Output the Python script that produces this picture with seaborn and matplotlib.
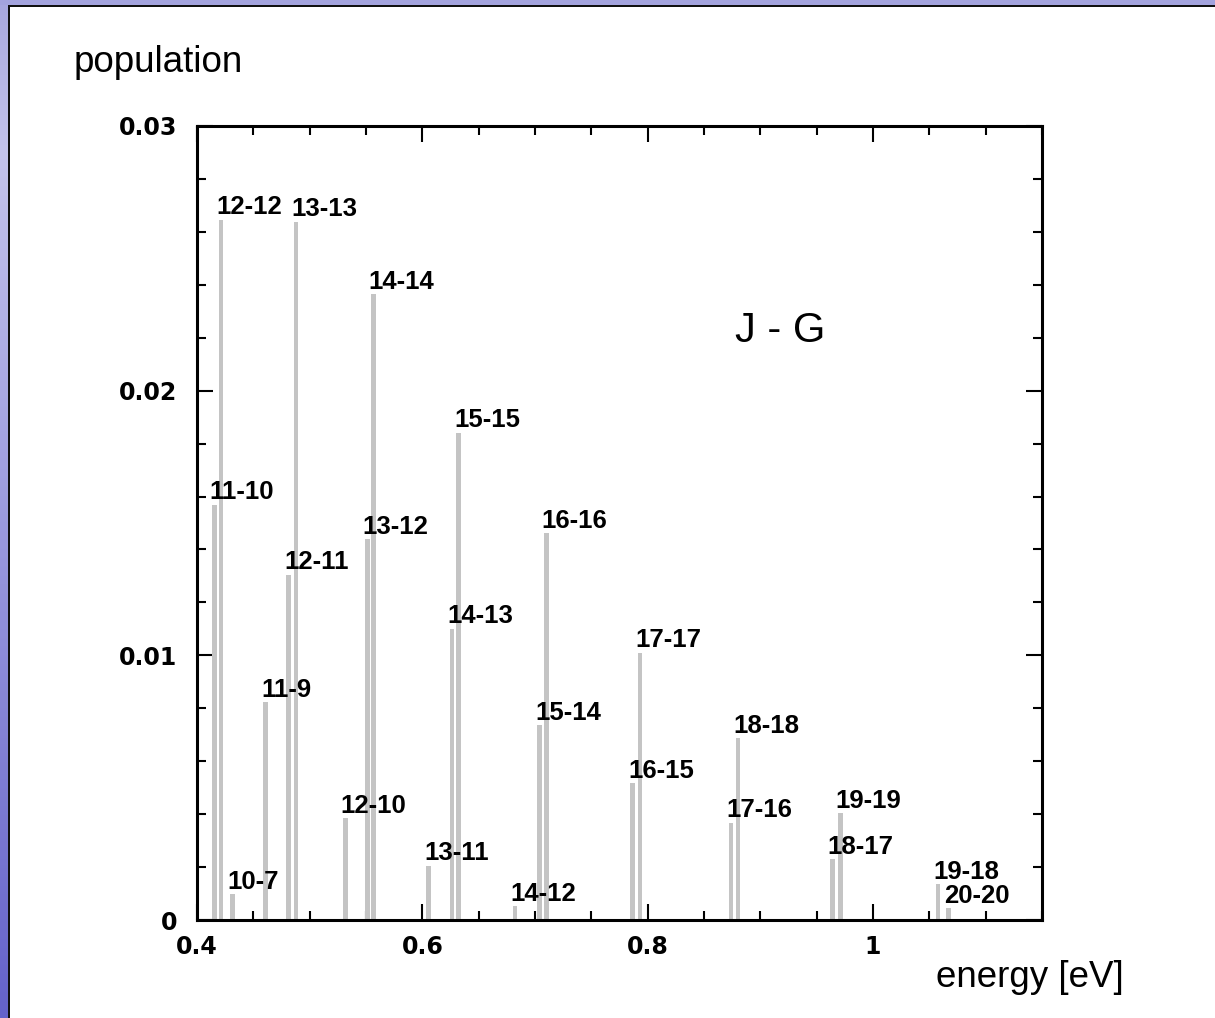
import numpy as np
import pandas as pd
import matplotlib
matplotlib.use("Agg")
import matplotlib.pyplot as plt
from matplotlib.ticker import MultipleLocator, FixedLocator, FixedFormatter
from matplotlib.patches import Rectangle
import seaborn as sns

# J - G transitions: energy of each line and its population
transitions = ["10-7", "11-10", "11-9", "12-12", "12-11", "12-10", "13-13", "13-12",
               "13-11", "14-14", "14-13", "14-12", "15-15", "15-14", "16-16", "16-15",
               "17-17", "17-16", "18-18", "18-17", "19-19", "19-18", "20-20"]
energy_ev = [0.4312, 0.4155, 0.4611, 0.4214, 0.4813, 0.5317, 0.4879, 0.5511,
             0.6056, 0.5567, 0.6264, 0.6822, 0.6323, 0.7041, 0.7101, 0.7867,
             0.7932, 0.8739, 0.8801, 0.9638, 0.9712, 1.0578, 1.0670]
population = [0.00098, 0.01568, 0.00822, 0.02645, 0.01305, 0.00385, 0.02638, 0.01438,
              0.00204, 0.02364, 0.01100, 0.00052, 0.01840, 0.00735, 0.01462, 0.00517,
              0.01010, 0.00368, 0.00686, 0.00229, 0.00403, 0.00135, 0.00044]

x_ticks = [0.4, 0.6, 0.8, 1.0]
x_tick_labels = ["0.4", "0.6", "0.8", "1"]
y_ticks = [0.0, 0.01, 0.02, 0.03]
y_tick_labels = ["0", "0.01", "0.02", "0.03"]

sns.set_theme(style="ticks")
plt.rcParams["font.family"] = ["DejaVu Sans"]

W, H = 1215, 1018
fig = plt.figure(figsize=(W / 100, H / 100), dpi=100)
fig.patch.set_facecolor("white")

# slide frame: purple bands on the top and left edges with a dark rule
deco = fig.add_axes([0, 0, 1, 1], zorder=-5)
deco.axis("off")
rows = np.arange(H)
stops_y = [0, 150, H]
grad = np.stack([
    np.interp(rows, stops_y, [166, 196, 100]),
    np.interp(rows, stops_y, [166, 196, 98]),
    np.interp(rows, stops_y, [222, 236, 202]),
], axis=-1)[:, None, :] / 255.0
deco.imshow(grad, extent=(0, 8, H, 0), aspect="auto", interpolation="bilinear")
deco.add_patch(Rectangle((0, 0), W, 5, color="#a3a3dd", lw=0))
deco.add_patch(Rectangle((8, 5), 2.2, H, color="#101010", lw=0))
deco.add_patch(Rectangle((8, 5), W, 2.2, color="#101010", lw=0))
deco.set_xlim(0, W)
deco.set_ylim(H, 0)

ax = fig.add_axes([197 / W, 1 - 920 / H, (1042 - 197) / W, (920 - 126) / H])
ax.set_facecolor("white")

df = pd.DataFrame({"transition": transitions, "energy": energy_ev, "population": population})
bar_width_ev = 0.0042
spacing = np.diff(np.sort(df["energy"].to_numpy())).min()
sns.barplot(data=df, x="energy", y="population", native_scale=True, orient="x",
            errorbar=None, color="#c4c4c4", saturation=1, width=bar_width_ev / spacing,
            linewidth=0, ax=ax)

for lab, e, p in zip(df["transition"], df["energy"], df["population"]):
    ax.annotate(lab, (e, p), xytext=(-3.4, 4.0), textcoords="offset points",
                ha="left", va="baseline", fontsize=18.5, fontweight="bold",
                family=["Liberation Sans", "DejaVu Sans"], color="black")

ax.set_xlim(0.4, 1.15)
ax.set_ylim(0, 0.03)
ax.set_xlabel("")
ax.set_ylabel("")

ax.xaxis.set_major_locator(FixedLocator(x_ticks))
ax.xaxis.set_major_formatter(FixedFormatter(x_tick_labels))
ax.xaxis.set_minor_locator(MultipleLocator(0.05))
ax.yaxis.set_major_locator(FixedLocator(y_ticks))
ax.yaxis.set_major_formatter(FixedFormatter(y_tick_labels))
ax.yaxis.set_minor_locator(MultipleLocator(0.002))

ax.tick_params(which="both", direction="in", top=True, right=True, color="black", width=1.5)
ax.tick_params(which="major", length=11.5, labelsize=17, labelcolor="black")
ax.tick_params(which="minor", length=6.5)
ax.tick_params(axis="x", which="major", pad=11)
ax.tick_params(axis="y", which="major", pad=14)
for lbl in ax.get_xticklabels() + ax.get_yticklabels():
    lbl.set_fontweight("bold")
for sp in ax.spines.values():
    sp.set_visible(True)
    sp.set_linewidth(2.2)
    sp.set_color("black")

txt_font = ["Liberation Sans", "DejaVu Sans"]
fig.text(74 / W, 1 - 72 / H, "population", fontsize=26.5, family=txt_font,
         ha="left", va="baseline", color="black")
fig.text(936 / W, 1 - 987 / H, "energy [eV]", fontsize=26.5, family=txt_font,
         ha="left", va="baseline", color="black")
fig.text(735 / W, 1 - 342 / H, "J - G", fontsize=30, family=txt_font,
         ha="left", va="baseline", color="black")

fig.savefig("out.png", dpi=100, facecolor="white")
